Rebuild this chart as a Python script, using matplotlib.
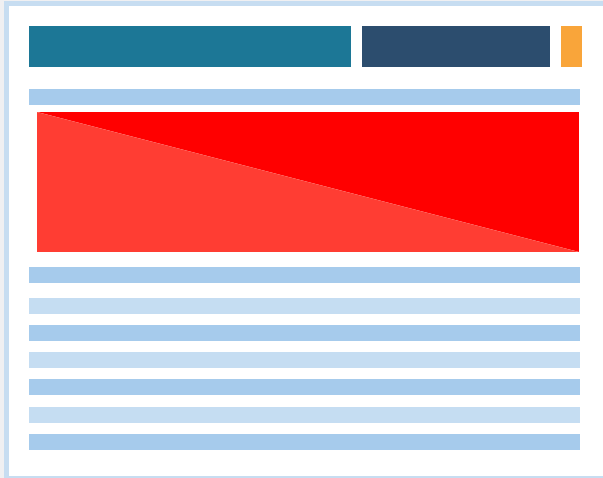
import matplotlib
matplotlib.use("Agg")
from matplotlib import pyplot as plt

# header blocks: left x, width, colour
head_x = [29, 362, 561]
head_w = [322, 188, 21]
head_c = ["#1c7796", "#2c4d6e", "#f9a53a"]

# horizontal strips: top y, height, colour
strip_y = [89, 267, 298, 325, 352, 379, 407, 434]
strip_h = [16, 16, 16, 16, 16, 16, 16, 16]
strip_c = ["#a6cbec", "#a6cbec", "#c5ddf2", "#a6cbec", "#c5ddf2", "#a6cbec", "#c5ddf2", "#a6cbec"]

# red panel split along its diagonal
panel_x = [37, 579]
panel_y = [112, 252]

fig = plt.figure(figsize=(6.03, 4.78), dpi=100)
fig.patch.set_facecolor("#f0f0f2")
ax = fig.add_axes([0, 0, 1, 1])
ax.set_xlim(0, 603)
ax.set_ylim(478, 0)
ax.axis("off")

# card frame
ax.add_patch(plt.Rectangle((4, 1), 610, 477, facecolor="#c7ddf1", edgecolor="none"))
ax.add_patch(plt.Rectangle((9, 6), 610, 470, facecolor="white", edgecolor="none"))

ax.barh([26], head_w, left=head_x, height=41, color=head_c, align="edge")
ax.barh(strip_y, [551] * len(strip_y), left=29, height=strip_h, color=strip_c, align="edge")

x0, x1 = panel_x
y0, y1 = panel_y
ax.fill([x0, x1, x1], [y0, y0, y1], color="#ff0000", lw=0)
ax.fill([x0, x1, x0], [y0, y1, y1], color="#ff3d33", lw=0)

plt.savefig("out.png", dpi=100)
